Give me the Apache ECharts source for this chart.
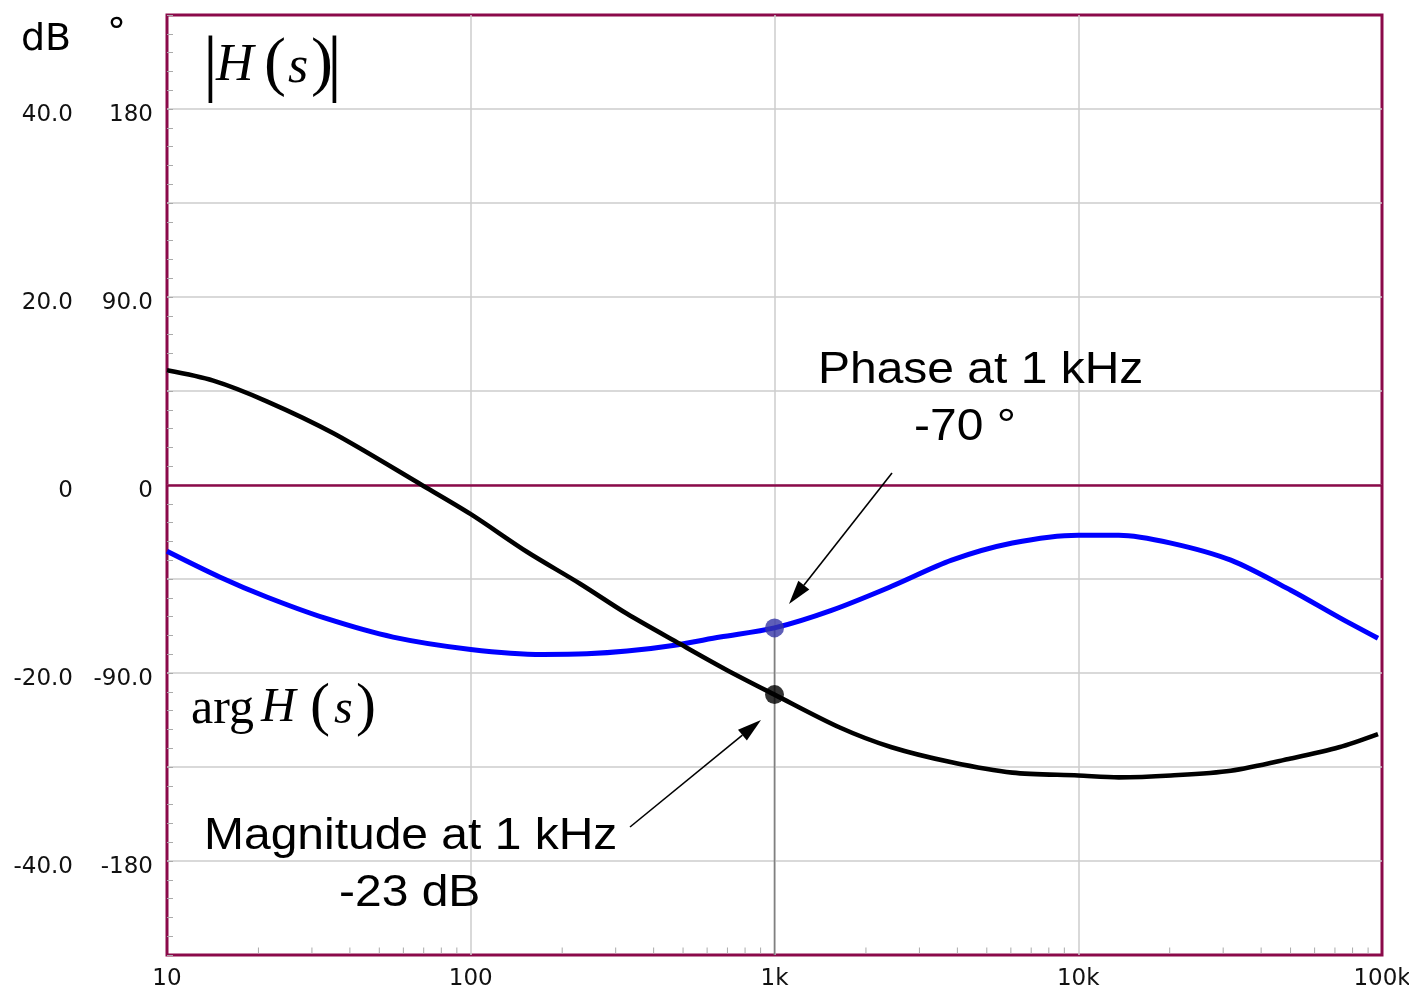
<!DOCTYPE html>
<html>
<head>
<meta charset="utf-8">
<script src="https://cdn.jsdelivr.net/npm/echarts@6/dist/echarts.min.js"></script>
<style>
html,body{margin:0;padding:0;background:#fff;}
#chart{width:1409px;height:992px;}
</style>
</head>
<body>
<div id="chart"></div>
<script>
// ---- data ----
const magFreq = [10, 14.2, 21.3, 35.3, 69, 100, 153, 229, 327, 488, 698, 1000, 1640, 2430, 3830, 6070, 10000, 13600, 20200, 31800, 50100, 72200, 97000];
const magDb   = [12.2, 11.1, 8.9, 5.5, 0, -3.1, -7.1, -10.5, -13.7, -16.9, -19.7, -22.3, -25.8, -27.9, -29.5, -30.6, -30.9, -31.1, -30.9, -30.4, -29.1, -27.9, -26.5];
const phFreq  = [10, 14.9, 21.3, 33.6, 55.5, 100, 173, 241, 327, 463, 662, 1000, 1540, 2430, 3830, 6070, 10000, 13600, 20200, 31800, 50100, 72200, 97000];
const phDeg   = [-31.7, -44, -53.6, -64, -72.8, -78.7, -81.1, -80.8, -79.5, -76.8, -72.8, -68.4, -60, -48.5, -36, -27.8, -24, -24, -27.8, -36, -50.4, -63.4, -73.4];
const markerFreq = [1000];
const markerDb   = [-22.3];
const markerDeg  = [-68.4];
const xTickLabels = {10: '10', 100: '100', 1000: '1k', 10000: '10k', 100000: '100k'};
const decades = [10, 100, 1000, 10000];
const minorMultipliers = [2, 3, 4, 5, 6, 7, 8, 9];

const minorTickFreqs = [];
decades.forEach(d => minorMultipliers.forEach(m => minorTickFreqs.push(d * m)));

const MAROON = '#8b0a4a';
const GRIDC = '#cccccc';

const chart = echarts.init(document.getElementById('chart'), null, {renderer: 'canvas'});

function serifText(x, y, text, size, italic) {
  return {
    type: 'text', silent: true, z: 50,
    style: {
      x: x, y: y, text: text,
      font: (italic ? 'italic ' : '') + size + 'px "Liberation Serif", "Times New Roman", serif',
      fill: '#000', textAlign: 'left', textVerticalAlign: 'middle', verticalAlign: 'middle'
    }
  };
}
function sansText(x, y, text, size, family, sx) {
  return {
    type: 'text', silent: true, z: 50,
    x: x, y: y, scaleX: sx || 1, scaleY: 1,
    style: {
      x: 0, y: 0, text: text,
      font: size + 'px ' + (family || '"Liberation Sans", Arial, sans-serif'),
      fill: '#000', textAlign: 'left', textVerticalAlign: 'middle', verticalAlign: 'middle'
    }
  };
}
function arrow(x1, y1, x2, y2) {
  const ang = Math.atan2(y2 - y1, x2 - x1);
  const L = 24, W = 7;
  const bx = x2 - L * Math.cos(ang), by = y2 - L * Math.sin(ang);
  const px = -Math.sin(ang) * W, py = Math.cos(ang) * W;
  return [
    {type: 'line', silent: true, z: 50, shape: {x1: x1, y1: y1, x2: bx, y2: by}, style: {stroke: '#000', lineWidth: 1.6}},
    {type: 'polygon', silent: true, z: 50, shape: {points: [[x2, y2], [bx + px, by + py], [bx - px, by - py]]}, style: {fill: '#000'}}
  ];
}

const SX = 1.066;
const graphics = [
  sansText(21, 40, 'dB', 38, '"DejaVu Sans", sans-serif'),
  sansText(107, 34, '°', 38, '"DejaVu Sans", sans-serif'),
  // |H(s)|
  serifText(203, 68, '|', 74, false),
  serifText(216, 66, 'H', 52, true),
  serifText(264, 66, '(', 66, false),
  serifText(288, 68, 's', 52, true),
  serifText(311, 66, ')', 66, false),
  serifText(327, 68, '|', 74, false),
  // arg H(s)
  serifText(191, 710, 'arg', 50, false),
  serifText(261, 708, 'H', 48, true),
  serifText(310, 708, '(', 60, false),
  serifText(334, 710, 's', 48, true),
  serifText(356, 708, ')', 60, false),
  // annotations
  sansText(818, 371, 'Phase at 1 kHz', 45, null, SX),
  sansText(914, 428, '-70 °', 45, null, SX),
  sansText(204, 837, 'Magnitude at 1 kHz', 45, null, SX),
  sansText(339, 894, '-23 dB', 45, null, SX)
].concat(arrow(892, 473, 789, 604)).concat(arrow(630, 827, 761, 720));

const yLabelStyle = {
  fontSize: 23, color: '#111', fontFamily: 'DejaVu Sans',
  verticalAlign: 'top', lineHeight: 12
};

const option = {
  animation: false,
  backgroundColor: '#ffffff',
  grid: {left: 167, right: 27, top: 15, bottom: 37, outerBoundsMode: 'none', containLabel: false,
         show: true, borderColor: MAROON, borderWidth: 3, backgroundColor: 'transparent'},
  xAxis: {
    type: 'log', logBase: 10, min: 10, max: 100000,
    axisLine: {show: false},
    axisTick: {show: false},
    axisLabel: {
      margin: 13, fontSize: 23, color: '#111', fontFamily: 'DejaVu Sans',
      formatter: v => xTickLabels[Math.round(v)] || ''
    },
    splitLine: {show: true, showMinLine: false, showMaxLine: false, lineStyle: {color: GRIDC, width: 1.5}}
  },
  yAxis: [
    {
      type: 'value', min: -50, max: 50, interval: 10, position: 'left',
      axisLine: {show: false},
      axisTick: {show: true, inside: true, length: 6, lineStyle: {color: '#aaaaaa', width: 1}},
      minorTick: {show: true, splitNumber: 5, length: 6, lineStyle: {color: '#aaaaaa', width: 1}},
      axisLabel: Object.assign({
        margin: 94,
        formatter: v => (v % 20 === 0 && Math.abs(v) <= 40) ? (v === 0 ? '0' : v.toFixed(1)) : ''
      }, yLabelStyle),
      splitLine: {show: true, showMinLine: false, showMaxLine: false, lineStyle: {color: GRIDC, width: 1.5}}
    },
    {
      type: 'value', min: -225, max: 225, interval: 45, position: 'left',
      axisLine: {show: false},
      axisTick: {show: false},
      axisLabel: Object.assign({
        margin: 14,
        formatter: v => (v % 90 === 0 && Math.abs(v) <= 180) ? (v === 0 ? '0' : v.toPrecision(3)) : ''
      }, yLabelStyle),
      splitLine: {show: false}
    }
  ],
  graphic: graphics,
  series: [
    {
      type: 'custom', xAxisIndex: 0, yAxisIndex: 0, silent: true, clip: false, z: 3,
      data: minorTickFreqs.map(f => [f, -50]),
      renderItem: (params, api) => {
        const p = api.coord([api.value(0), api.value(1)]);
        return {type: 'line', shape: {x1: p[0], y1: p[1] - 1.5, x2: p[0], y2: p[1] - 7.5}, style: {stroke: '#aaaaaa', lineWidth: 1}};
      }
    },
    {
      name: 'marker line', type: 'line', yAxisIndex: 1, silent: true, z: 4,
      data: [[markerFreq[0], markerDeg[0]], [markerFreq[0], -225]],
      showSymbol: false, lineStyle: {color: '#808080', width: 1.6}
    },
    {
      name: 'phase', type: 'line', yAxisIndex: 1, z: 5,
      data: phFreq.map((f, i) => [f, phDeg[i]]),
      smooth: 0.3, showSymbol: false, lineStyle: {color: '#0000ff', width: 5}
    },
    {
      name: 'magnitude', type: 'line', yAxisIndex: 0, z: 6,
      data: magFreq.map((f, i) => [f, magDb[i]]),
      smooth: 0.3, showSymbol: false, lineStyle: {color: '#000000', width: 4.6},
      markLine: {
        silent: true, symbol: 'none', label: {show: false},
        lineStyle: {color: MAROON, width: 2.5, type: 'solid'},
        data: [{yAxis: 0}]
      }
    },
    {
      name: 'phase marker', type: 'scatter', yAxisIndex: 1, z: 7,
      data: markerFreq.map((f, i) => [f, markerDeg[i]]),
      symbolSize: 19, itemStyle: {color: '#3636a6'}
    },
    {
      name: 'magnitude marker', type: 'scatter', yAxisIndex: 0, z: 7,
      data: markerFreq.map((f, i) => [f, markerDb[i]]),
      symbolSize: 19, itemStyle: {color: '#000000'}
    }
  ]
};
chart.setOption(option);
</script>
</body>
</html>
